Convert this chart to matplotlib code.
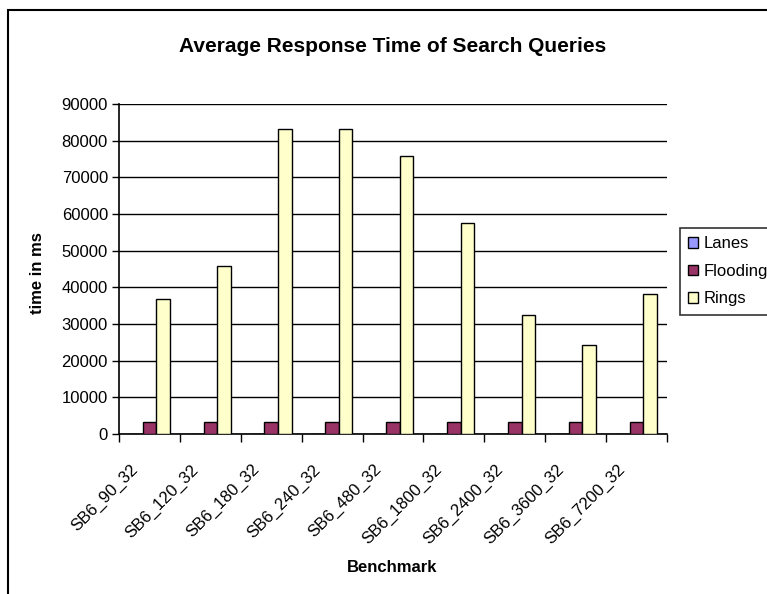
import matplotlib
matplotlib.use("Agg")
import matplotlib.pyplot as plt
import matplotlib.transforms as mtrans
import numpy as np
from matplotlib.patches import Rectangle

plt.rcParams['font.family'] = ['Liberation Sans', 'DejaVu Sans']

benchmarks = ["SB6_90_32", "SB6_120_32", "SB6_180_32", "SB6_240_32", "SB6_480_32",
              "SB6_1800_32", "SB6_2400_32", "SB6_3600_32", "SB6_7200_32"]
lanes = [0, 0, 0, 0, 0, 0, 0, 0, 0]
flooding = [3200, 3200, 3200, 3200, 3200, 3200, 3200, 3200, 3200]
rings = [36700, 45800, 83300, 83300, 75900, 57600, 32500, 24300, 38200]

series = [("Lanes", lanes, "#9999FF"),
          ("Flooding", flooding, "#993366"),
          ("Rings", rings, "#FFFFCC")]

fig = plt.figure(figsize=(7.67, 5.94), dpi=100)
ax = fig.add_axes([119/767, 1 - 434/594, 548/767, 330/594])

# chart border (open on the right and bottom)
fig.add_artist(Rectangle((8/767, -0.1), 1.2, 1 - 10/594 + 0.1,
                         transform=fig.transFigure, fill=False,
                         edgecolor="black", linewidth=1.5))

x = np.arange(len(benchmarks))
w = 1 / 4.5
for i, (name, vals, col) in enumerate(series):
    ax.bar(x + (i - 1) * w, vals, width=w, color=col, edgecolor="black",
           linewidth=1.0, label=name, zorder=3)

ax.set_xlim(-0.5, len(benchmarks) - 0.5)
ax.set_ylim(0, 90000)
ax.set_yticks(np.arange(0, 90001, 10000))
ax.tick_params(axis="y", length=5, width=1, labelsize=12, pad=3)
ax.yaxis.grid(True, color="black", linewidth=1.0, zorder=0)
ax.set_axisbelow(True)

# category boundaries carry the ticks, labels sit at the centres
ax.set_xticks(np.arange(-0.5, len(benchmarks), 1.0))
ax.set_xticklabels([])
ax.tick_params(axis="x", which="major", length=6, width=1)
ax.set_xticks(x, minor=True)
ax.set_xticklabels(benchmarks, minor=True, rotation=45, ha="right", va="center",
                   rotation_mode="anchor", fontsize=12)
ax.tick_params(axis="x", which="minor", length=0, pad=0)
shift = mtrans.ScaledTranslation(-14/100, -33/100, fig.dpi_scale_trans)
for lbl in ax.get_xticklabels(minor=True):
    lbl.set_transform(lbl.get_transform() + shift)

for s in ["top", "right"]:
    ax.spines[s].set_visible(False)
ax.spines["left"].set_linewidth(1.2)
ax.spines["bottom"].set_linewidth(1.2)

fig.text(393/767, 1 - 46/594, "Average Response Time of Search Queries",
         ha="center", va="center", fontsize=15, fontweight="bold")
fig.text(38/767, 1 - 273/594, "time in ms", ha="center", va="center",
         rotation=90, fontsize=12, fontweight="bold")
fig.text(392/767, 1 - 568/594, "Benchmark", ha="center", va="center",
         fontsize=12, fontweight="bold")

leg = ax.legend(loc="upper left", bbox_to_anchor=(680/767, 1 - 228/594),
                bbox_transform=fig.transFigure, fontsize=12, frameon=True,
                fancybox=False, edgecolor="black", handlelength=0.6,
                handleheight=0.6, handletextpad=0.3, labelspacing=0.75,
                borderpad=0.5, borderaxespad=0)
leg.get_frame().set_linewidth(1.2)

fig.savefig("out.png", dpi=100)
